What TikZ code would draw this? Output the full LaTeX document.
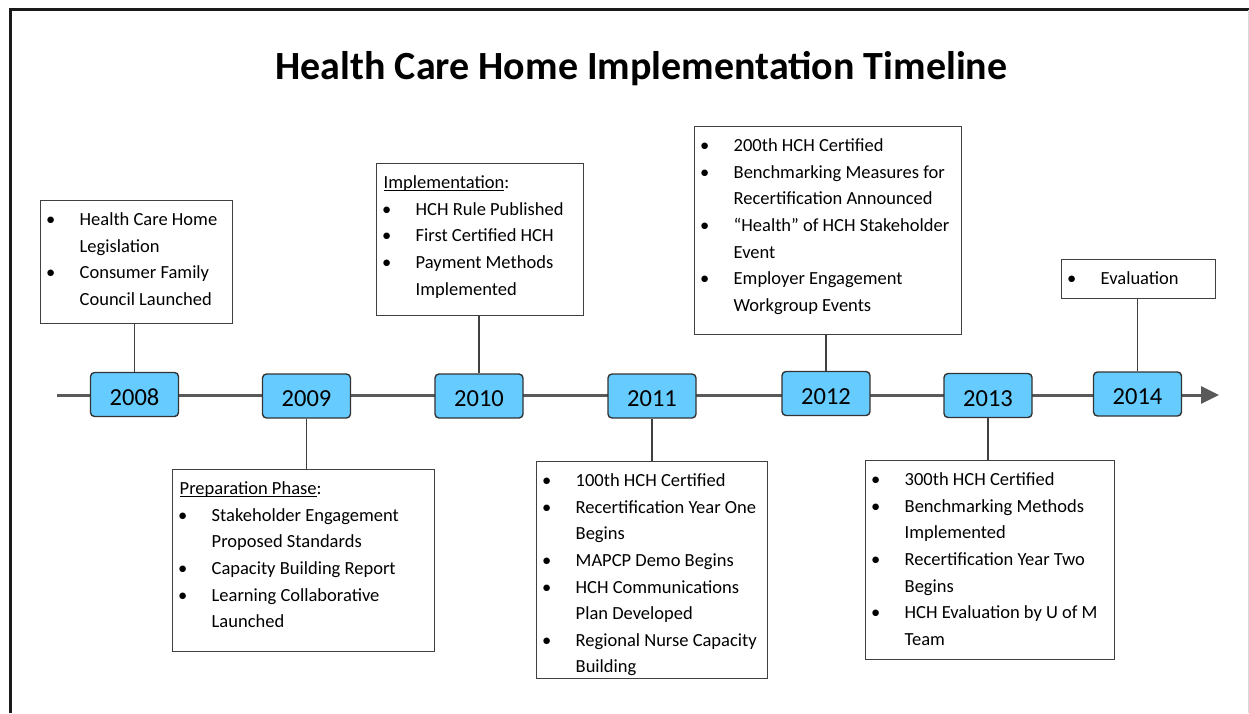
\documentclass[tikz,border=0pt]{standalone}
\usepackage{fontspec}
\setmainfont{Carlito}
\usetikzlibrary{arrows.meta}
\definecolor{yearblue}{RGB}{102,204,255}
\definecolor{boxline}{RGB}{64,64,64}
\definecolor{axisgray}{RGB}{89,89,89}
\newcommand\bitem[1]{\par\noindent\makebox[39pt][l]{\hspace{5.5pt}\textbullet}#1}
\newcommand\citem[1]{\par\noindent\hspace*{39pt}#1}
\newcommand\hitem[1]{\par\noindent\hspace*{7pt}#1}
\newcommand\fst{\rule{0pt}{25pt}}
\newcommand\ulx[1]{\setbox0\hbox{#1}\rlap{\rule[-2.4pt]{\wd0}{1.1pt}}\box0}
\newcommand\yr[1]{\raisebox{-3pt}[\height][\depth]{#1}}
\newcommand\boxtext[3]{\parbox[c][#2pt][t]{#1pt}{\fontsize{18.5}{26.6}\selectfont\raggedright #3}}
\begin{document}
\begin{tikzpicture}[x=1pt,y=-1pt,
  yearbox/.style={draw=black!80,line width=1.4pt,fill=yearblue,rounded corners=4pt,
    minimum width=88pt,minimum height=44pt,inner sep=0pt,font=\fontsize{24.5}{28}\selectfont},
  tbox/.style={draw=boxline,line width=1.4pt,fill=white,inner sep=0pt,anchor=north west},
  conn/.style={draw=boxline,line width=1.4pt},
  axis/.style={draw=axisgray,line width=3pt,-{Triangle[length=18pt,width=17pt]}}]
\useasboundingbox (0,0) rectangle (1249,713);
% frame
\draw[line width=3.2pt,black!90] (10.5,713) -- (10.5,9.5) -- (1249,9.5);
\draw[line width=1pt,black!15] (1248,9.5) -- (1248,713);
% title
\node[font=\fontsize{40}{44}\selectfont\bfseries] (title) at (641.5,69) {Health Care Home Implementation Timeline};
% axis
\coordinate (tlstart) at (57,395);
\coordinate (tlend) at (1219,395);
\draw[axis] (tlstart) -- (tlend);
% years
\node[yearbox] (y2008) at (134.5,394.5) {\yr{2008}};
\node[yearbox] (y2009) at (306.5,396) {\yr{2009}};
\node[yearbox] (y2010) at (479,396) {\yr{2010}};
\node[yearbox] (y2011) at (652,396) {\yr{2011}};
\node[yearbox] (y2012) at (826,393.5) {\yr{2012}};
\node[yearbox] (y2013) at (988,395.5) {\yr{2013}};
\node[yearbox] (y2014) at (1137.5,394) {\yr{2014}};
% text boxes
\node[tbox] (b2008) at (40,200) {\boxtext{192}{123}{%
  \bitem{\fst Health Care Home}\citem{Legislation}\bitem{Consumer Family}\citem{Council Launched}}};
\node[tbox] (b2009) at (172,469) {\boxtext{262}{182}{%
  \hitem{\fst\ulx{Preparation Phase}:}\bitem{Stakeholder Engagement}\citem{Proposed Standards}%
  \bitem{Capacity Building Report}\bitem{Learning Collaborative}\citem{Launched}}};
\node[tbox] (b2010) at (376,163) {\boxtext{207}{152}{%
  \hitem{\fst\ulx{Implementation}:}\bitem{HCH Rule Published}\bitem{First Certified HCH}%
  \bitem{Payment Methods}\citem{Implemented}}};
\node[tbox] (b2011) at (536,461) {\boxtext{231}{217}{%
  \bitem{\fst 100th HCH Certified}\bitem{Recertification Year One}\citem{Begins}%
  \bitem{MAPCP Demo Begins}\bitem{HCH Communications}\citem{Plan Developed}%
  \bitem{Regional Nurse Capacity}\citem{Building}}};
\node[tbox] (b2012) at (694,126) {\boxtext{267}{208}{%
  \bitem{\fst 200th HCH Certified}\bitem{Benchmarking Measures for}\citem{Recertification Announced}%
  \bitem{“Health” of HCH Stakeholder}\citem{Event}\bitem{Employer Engagement}\citem{Workgroup Events}}};
\node[tbox] (b2013) at (865,460) {\boxtext{249}{199}{%
  \bitem{\fst 300th HCH Certified}\bitem{Benchmarking Methods}\citem{Implemented}%
  \bitem{Recertification Year Two}\citem{Begins}\bitem{HCH Evaluation by U of M}\citem{Team}}};
\node[tbox] (b2014) at (1061,259) {\boxtext{154}{39}{%
  \bitem{\fst Evaluation}}};
% connectors
\draw[conn] (y2008.north) -- (y2008.north |- b2008.south);
\draw[conn] (y2009.south) -- (y2009.south |- b2009.north);
\draw[conn] (y2010.north) -- (y2010.north |- b2010.south);
\draw[conn] (y2011.south) -- (y2011.south |- b2011.north);
\draw[conn] (y2012.north) -- (y2012.north |- b2012.south);
\draw[conn] (y2013.south) -- (y2013.south |- b2013.north);
\draw[conn] (y2014.north) -- (y2014.north |- b2014.south);
\end{tikzpicture}
\end{document}
